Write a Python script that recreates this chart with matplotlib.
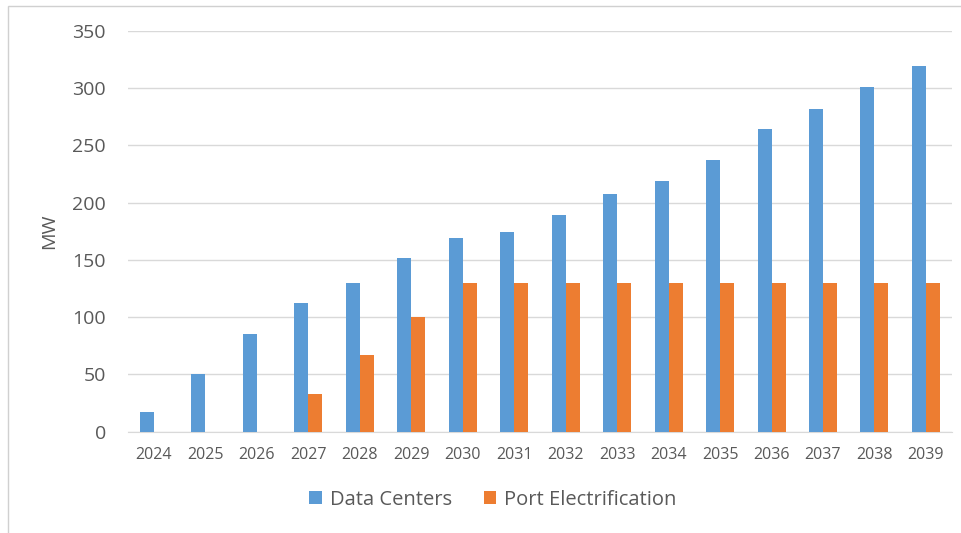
import numpy as np
import matplotlib
import matplotlib.pyplot as plt
from matplotlib.patches import Rectangle

matplotlib.rcParams['font.family'] = ['Open Sans', 'DejaVu Sans']

years = [str(y) for y in range(2024, 2040)]
data_centers = [17, 50, 85, 112, 130, 152, 169, 174, 189, 208, 219, 237, 264, 282, 301, 319]
port_elec = [0, 0, 0, 33, 67, 100, 130, 130, 130, 130, 130, 130, 130, 130, 130, 130]

blue = '#5B9BD5'
orange = '#ED7D31'
txt = '#595959'
grid = '#D9D9D9'

fig = plt.figure(figsize=(9.61, 5.33), dpi=100)
# outer chart frame
fig.patches.append(Rectangle((8 / 961, -0.01), 1.0, 1 - 6 / 533 + 0.01,
                             transform=fig.transFigure, facecolor='none',
                             edgecolor='#D0D0D0', linewidth=1.0))

ax = fig.add_axes([128 / 961, 1 - 431.7 / 533, (951.7 - 128) / 961, (431.7 - 31) / 533])
ax.set_zorder(2)
ax.set_facecolor('none')

x = np.arange(len(years))
w = 0.272
ax.bar(x - w / 2, data_centers, width=w, color=blue, label='Data Centers', zorder=3)
ax.bar(x + w / 2, port_elec, width=w, color=orange, label='Port Electrification', zorder=3)

ax.set_xlim(-0.5, len(years) - 0.5)
ax.set_ylim(0, 350)
ax.set_yticks(np.arange(0, 351, 50))
ax.yaxis.grid(True, color=grid, linewidth=1.0, zorder=0)
ax.set_axisbelow(True)
ax.set_xticks(x)
ax.set_xticklabels(years)
ax.tick_params(axis='both', length=0, colors=txt)
ax.tick_params(axis='y', labelsize=14, pad=16)
ax.tick_params(axis='x', labelsize=11.5, pad=11)
for s in ['top', 'right', 'left']:
    ax.spines[s].set_visible(False)
ax.spines['bottom'].set_color(grid)
ax.set_ylabel('MW', color=txt, fontsize=14, labelpad=10)

fig.legend(loc='center', bbox_to_anchor=(0.513, 0.062), ncol=2, frameon=False,
           fontsize=14.5, labelcolor=txt, handlelength=0.6, handleheight=0.6,
           handletextpad=0.4, columnspacing=1.6)

fig.savefig('out.png', dpi=100)
